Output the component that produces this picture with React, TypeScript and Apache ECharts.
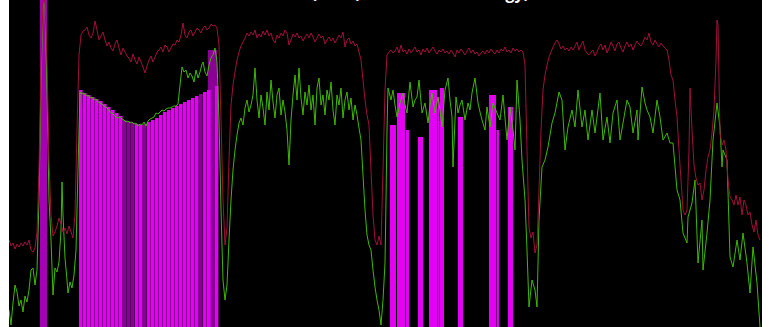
import React, { useEffect, useRef } from "react";
import * as echarts from "echarts";

// Sample position (t) and attenuation below reference (larger = lower on the chart)
const powerTrace: [number, number][] = [
  [9,240],[11,246],[13,243],[15,249],[17,244],[19,247],[21,243],[23,246],[25,242],[27,245],[29,240],[31,250],[33,252],[35,248],[37,232],[39,170],[41,60],[43,5],[44,-5],[45,5],[47,60],[49,160],[51,215],[53,236],[55,232],[57,226],[59,218],[61,224],[63,232],[65,228],[67,234],[69,226],[71,232],[73,238],[75,215],[77,130],[79,55],[81,35],[83,31],[85,30],[87,27],[89,35],[91,38],[93,33],[95,21],[97,30],[99,40],[101,36],[103,32],[105,40],[107,46],[109,42],[111,48],[113,51],[115,44],[117,40],[119,48],[121,55],[123,48],[125,52],[127,56],[129,58],[131,62],[133,54],[135,60],[137,64],[139,57],[141,62],[143,67],[145,73],[147,66],[149,60],[151,56],[153,62],[155,57],[157,52],[159,50],[161,47],[163,52],[165,45],[167,47],[169,52],[171,48],[173,44],[175,45],[177,40],[179,42],[181,35],[183,23],[185,35],[187,38],[189,32],[191,30],[193,36],[195,32],[197,28],[199,30],[201,33],[203,28],[205,26],[207,30],[209,28],[211,24],[213,26],[215,25],[217,28],[219,45],[221,120],[223,200],[225,245],[227,228],[229,160],[231,105],[233,85],[235,72],[237,60],[239,52],[241,46],[243,42],[245,38],[247,33],
  [249,36],[251,32],[253,35],[255,30],[257,38],[259,34],[261,37],[263,31],[265,35],[267,30],[269,36],[271,33],[273,40],[275,43],[277,35],[279,38],[281,33],[283,36],[285,30],[287,33],[289,45],[291,40],[293,34],[295,37],[297,33],[299,38],[301,36],[303,41],[305,37],[307,34],[309,38],[311,33],[313,37],[315,42],[317,38],[319,34],[321,38],[323,36],[325,44],[327,40],[329,37],[331,41],[333,38],[335,43],[337,39],[339,35],[341,38],[343,32],[345,47],[347,40],[349,38],[351,44],[353,41],[355,46],[357,44],[359,52],[361,60],[363,80],[365,100],[367,115],[369,125],[371,170],[373,215],[375,240],[377,245],[379,236],[381,245],[383,170],[385,90],[387,55],
  [389,52],[391,50],[393,53],[395,51],[397,47],[399,53],[401,45],[403,52],[405,50],[407,54],[409,49],[411,53],[413,50],[415,47],[417,52],[419,50],[421,55],[423,49],[425,52],[427,48],[429,53],[431,50],[433,47],[435,51],[437,54],[439,50],[441,52],[443,49],[445,53],[447,51],[449,54],[451,50],[453,53],[455,57],[457,50],[459,53],[461,49],[463,52],[465,55],[467,51],[469,48],[471,53],[473,50],[475,54],[477,52],[479,56],[481,53],[483,51],[485,54],[487,50],[489,53],[491,49],[493,52],[495,54],[497,50],[499,53],[501,49],[503,51],[505,47],[507,52],[509,50],[511,53],[513,48],[515,51],[517,49],[519,52],[521,50],[523,52],[525,65],[527,150],[529,228],[531,238],[533,232],[535,253],[537,245],[539,190],[541,130],[543,90],[545,75],[547,65],[549,57],
  [551,52],[553,47],[555,43],[557,40],[559,44],[561,49],[563,46],[565,50],[567,48],[569,51],[571,47],[573,50],[575,46],[577,42],[579,50],[581,45],[583,41],[585,50],[587,53],[589,55],[591,52],[593,50],[595,56],[597,52],[599,47],[601,44],[603,50],[605,45],[607,53],[609,48],[611,42],[613,46],[615,51],[617,44],[619,42],[621,48],[623,52],[625,46],[627,42],[629,47],[631,44],[633,50],[635,45],[637,41],[639,44],[641,46],[643,42],[645,37],[647,40],[649,33],[651,42],[653,45],[655,40],[657,44],[659,47],[661,43],[663,46],[665,48],[667,50],[669,60],[671,75],[673,80],[675,100],[677,117],[679,150],[681,180],[683,210],[685,215],[687,210],[689,150],[690,88],[692,130],[694,165],[696,178],[698,185],[700,183],[702,200],[704,190],[706,170],[708,157],[710,150],[712,133],[714,110],[716,60],[717,20],[718,25],[719,80],[720,133],[722,145],[724,140],[726,150],[728,180],[730,197],[732,200],[734,205],[736,195],[738,205],[740,197],[742,215],[744,200],[746,205],[748,215],[750,212],[752,225],[754,232],[756,220],[758,235],[760,240]
];

const snrTrace: [number, number][] = [
  [9,310],[11,325],[13,303],[15,285],[17,292],[19,306],[21,300],[23,312],[25,296],[27,302],[29,290],[31,270],[33,268],[35,285],[37,270],[39,200],[41,80],[43,10],[44,0],[45,10],[47,90],[49,200],[51,240],[53,295],[55,268],[57,272],[59,262],[61,230],[62,182],[63,215],[65,258],[67,280],[68,293],[70,282],[72,288],[74,275],[76,250],[78,170],[80,92],[82,94],[84,93],[86,96],[88,95],[90,98],[92,97],[94,100],[96,99],[98,102],[100,103],[102,104],[104,106],[106,107],[108,109],[110,112],[112,113],[114,115],[116,117],[118,118],[120,117],[122,119],[124,120],[126,122],[128,121],[130,123],[132,122],[134,124],[136,123],[138,126],[140,124],[142,125],[144,122],[146,126],[148,121],[150,119],[152,118],[154,117],[156,113],[158,114],[160,112],[162,110],[164,111],[166,109],[168,108],[170,108],[172,107],[174,106],[176,106],[178,104],[180,85],[182,67],[184,72],[186,70],[188,78],[190,73],[192,76],[194,82],[196,70],[198,78],[200,72],[202,64],[203,62],[205,72],[207,76],[209,65],[211,58],[213,55],[215,48],[217,62],[219,120],[221,210],[223,280],[225,300],[227,285],[229,240],[231,200],[233,170],[235,150],[237,135],[239,123],
  [241,118],[243,125],[245,108],[247,100],[249,112],[251,105],[253,95],[255,68],[257,100],[259,118],[261,95],[263,108],[265,125],[267,92],[269,110],[271,80],[273,102],[275,118],[277,95],[279,88],[281,115],[283,100],[285,112],[287,130],[289,165],[291,120],[293,95],[295,75],[297,100],[299,68],[301,98],[303,115],[305,92],[307,105],[309,85],[311,110],[313,95],[315,125],[317,88],[319,78],[321,105],[323,95],[325,115],[327,90],[329,100],[331,82],[333,110],[335,125],[337,95],[339,105],[341,88],[343,118],[345,100],[347,92],[349,110],[351,98],[353,120],[355,105],[357,115],[359,128],[361,140],[363,175],[365,210],[367,235],[369,245],[371,250],[373,270],[375,287],[377,300],[379,310],[381,325],[383,300],[385,263],[386,200],[387,130],[388,88],
  [391,100],[393,90],[395,105],[397,117],[399,108],[400,103],[403,93],[405,105],[407,113],[410,82],[413,107],[415,100],[417,97],[419,80],[422,113],[425,103],[428,123],[430,105],[432,93],[435,113],[438,97],[440,110],[442,127],[445,90],[448,78],[450,100],[452,117],[453,167],[455,120],[456,97],[458,113],[460,105],[462,100],[465,120],[468,103],[470,110],[472,93],[475,78],[478,103],[480,112],[482,120],[485,130],[487,107],[490,127],[493,103],[495,108],[497,113],[500,120],[503,95],[505,118],[507,140],[510,107],[513,130],[515,150],[517,80],[520,120],[522,160],[525,200],[527,250],[529,307],[532,280],[535,290],[537,307],[539,220],[542,167],[545,160],[548,147],
  [552,123],[555,113],[559,92],[562,100],[565,150],[568,127],[572,110],[575,127],[578,90],[582,127],[585,110],[588,140],[592,110],[595,133],[600,93],[603,140],[607,117],[610,143],[613,113],[617,100],[620,140],[623,123],[627,100],[630,107],[633,133],[637,110],[638,140],[642,87],[645,103],[647,110],[650,117],[653,133],[657,100],[660,117],[663,140],[667,133],[670,143],[673,143],[677,190],[680,200],[683,233],[687,243],[688,217],[692,203],[695,180],[698,263],[702,220],[703,270],[707,233],[710,200],[713,140],[717,103],[720,127],[722,167],[723,150],[727,160],[730,257],[733,267],[737,240],[740,260],[743,233],[747,263],[750,293],[753,247],[757,283],[760,327]
];

// Energy blocks: [start, end, top level, shade]
const energyBlocks: [number, number, number, number][] = [
  [40,47,-20,2],
  [208,217,50,1],
  [79,82.6,90,0],[83,86.6,93,0],[87,90.6,95,0],[91,94.6,97,0],[95,98.6,99,0],[99,102.6,101,0],[103,106.6,104,0],[107,110.6,107,0],[111,114.6,110,0],[115,118.6,113,0],[119,122.6,116,0],[123,126.6,120,1],[127,130.6,121,1],[131,134.6,123,1],[135,138.6,124,0],[139,142.6,125,0],[143,146.6,124,1],[147,150.6,122,0],[151,154.6,120,0],[155,158.6,118,0],[159,162.6,115,0],[163,166.6,112,0],[167,170.6,110,0],[171,174.6,108,0],[175,178.6,106,0],[179,182.6,104,0],[183,186.6,102,0],[187,190.6,100,0],[191,194.6,98,0],[195,198.6,96,0],[199,202.6,94,1],[203,206.6,92,0],[207,210.6,90,0],[211,214.6,88,1],[215,218.4,86,0],
  [390,396,125,0],[397,405,93,0],[406,409,130,0],[418,423,137,0],[429,437,90,0],[437.5,439.5,97,0],[440,444,88,0],[458,463,117,0],[489,496,95,0],[496.5,499,130,0],[508,513,107,0]
];

const shadeColors = ["#e400f4", "#8a0096", "#a600b4"];
const BASE = 327;

export default function App() {
  const ref = useRef<HTMLDivElement>(null);
  useEffect(() => {
    if (!ref.current) return;
    const chart = echarts.init(ref.current, null, { renderer: "svg" });
    chart.setOption({
      animation: false,
      backgroundColor: "#000000",
      title: {
        text: "Power (dBFS) and Channel Energy)",
        left: 243,
        top: 20,
        textStyle: { color: "#ffffff", fontSize: 16, fontWeight: "bold", fontFamily: "Open Sans" },
      },
      grid: { left: 0, right: 0, top: 30, bottom: 3 },
      xAxis: { type: "value", min: 9, max: 762, show: false },
      yAxis: { type: "value", min: -10, max: 327, inverse: true, show: false },
      series: [
        {
          type: "custom",
          clip: true,
          data: energyBlocks,
          encode: { x: [0, 1], y: 2 },
          renderItem: (params: any, api: any) => {
            const x0 = api.value(0);
            const x1 = api.value(1);
            const top = api.value(2);
            const shade = api.value(3);
            const p0 = api.coord([x0, top]);
            const p1 = api.coord([x1, BASE]);
            return {
              type: "rect",
              shape: { x: p0[0], y: p0[1], width: p1[0] - p0[0], height: p1[1] - p0[1] },
              style: { fill: shadeColors[shade] },
            };
          },
        },
        {
          type: "line",
          data: snrTrace,
          showSymbol: false,
          lineStyle: { color: "#3fb800", width: 1 },
        },
        {
          type: "line",
          data: powerTrace,
          showSymbol: false,
          lineStyle: { color: "#a0103c", width: 1 },
        },
      ],
    });
    return () => chart.dispose();
  }, []);
  return (
    <div
      ref={ref}
      style={{ position: "absolute", left: 9, top: -40, width: 753, height: 370 }}
    />
  );
}
